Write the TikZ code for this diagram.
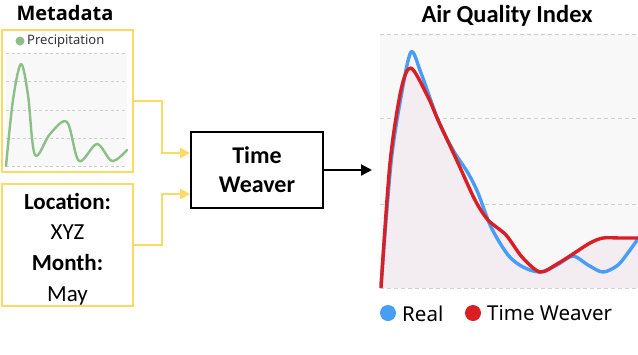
\documentclass[tikz,border=0pt]{standalone}
\usepackage{fontspec}
\setmainfont{Carlito}
\newfontfamily\uifont{Noto Sans}
\newfontfamily\uiboldfont{Open Sans}
\usetikzlibrary{arrows.meta}
\definecolor{ybox}{RGB}{255,217,102}
\definecolor{pgreen}{RGB}{140,190,135}
\definecolor{rblue}{RGB}{72,158,245}
\definecolor{twred}{RGB}{217,30,36}
\definecolor{gridc}{RGB}{205,205,205}
\definecolor{plotbg}{RGB}{248,248,248}
\definecolor{underfill}{RGB}{243,236,241}
\begin{document}
\begin{tikzpicture}[x=1pt,y=-1pt,
  yellowbox/.style={draw=ybox, line width=2.2pt, minimum width=131pt, inner sep=0pt},
  yconn/.style={draw=ybox, line width=2.2pt, -{Triangle[length=10pt,width=10pt]}},
  bconn/.style={draw=black, line width=2.2pt, -{Triangle[length=11pt,width=11pt]}},
  twbox/.style={draw=black, line width=1.8pt, minimum width=132pt, minimum height=76pt, inner sep=0pt, align=center, font=\fontsize{24}{29}\selectfont\bfseries},
  title/.style={font=\fontsize{24.5}{28}\selectfont\bfseries, inner sep=0pt},
  gridline/.style={draw=gridc, line width=0.8pt, dash pattern=on 4pt off 3pt},
  legtext/.style={font=\uifont\fontsize{20.5}{24}\selectfont, anchor=west, inner sep=0pt},
  dotmark/.style={circle, inner sep=0pt, draw=none}
]
\useasboundingbox (0,0) rectangle (638,354);

% ---------- Metadata ----------
\node[font=\uiboldfont\fontsize{20}{24}\selectfont\bfseries, inner sep=0pt] (mtitle) at (65,13) {Metadata};

% precipitation chart
\fill[plotbg] (6,53) rectangle (127,166);
\foreach \yy in {53,81,110,138,166} \draw[gridline, line width=0.6pt, dash pattern=on 3pt off 2.5pt] (6,\yy) -- (127,\yy);
\draw[pgreen, line width=2.4pt, line cap=round, line join=round]
  plot[smooth, tension=0.55] coordinates {(6,166) (13,100) (21,64) (28,95) (35,155) (50,134) (67,122) (79,161) (97,144) (112,161) (127,150)};
\node[dotmark, fill=pgreen, minimum size=9pt] (gdot) at (20,41) {};
\node[font=\uifont\fontsize{13}{15}\selectfont, anchor=west, inner sep=0pt, text=black!80] (plab) at (27,41.5) {Precipitation};
\node[yellowbox, minimum height=142pt] (prec) at (67.5,101) {};

% location box
\node[yellowbox, minimum height=122pt] (loc) at (67.5,245) {};
\node[align=center, inner sep=0pt, font=\fontsize{23}{30.7}\selectfont] (loctext) at ([yshift=-4pt]loc.center)
  {\textbf{Location:}\\XYZ\\\textbf{Month:}\\May};

% ---------- Time Weaver ----------
\node[twbox] (tw) at (257,170) {Time\\Weaver};

\draw[yconn] (prec.east) -- ++(28,0) |- ([yshift=17pt]tw.west);
\draw[yconn] (loc.east) -- ++(28,0) |- ([yshift=-24pt]tw.west);

\coordinate (aqiin) at (372,170);
\draw[bconn] (tw.east) -- (aqiin);

% ---------- Air Quality Index ----------
\node[title] (atitle) at (507,16) {Air Quality Index};

\begin{scope}
\clip (378,0) rectangle (638,354);
\fill[plotbg] (380,34) rectangle (640,288);
\foreach \yy in {34,118,204,288} \draw[gridline] (380,\yy) -- (640,\yy);
\fill[underfill]
  plot[smooth, tension=0.5] coordinates {(381,288) (390,163) (401,90) (411,68) (428,97) (438,120) (458,163) (475,200) (488,220) (506,235) (522,257) (540,272) (557,264) (573,254) (590,243) (603,238) (620,238) (640,238)}
  -- (640,288) -- (381,288) -- cycle;
\draw[rblue, line width=3.4pt, line join=round]
  plot[smooth, tension=0.5] coordinates {(381,285) (391,163) (401,97) (411,52) (421,73) (438,120) (453,150) (468,173) (478,193) (491,227) (508,255) (523,267) (540,272) (557,265) (573,256) (588,265) (603,272) (618,265) (630,250) (640,236)};
\draw[twred, line width=3.4pt, line join=round]
  plot[smooth, tension=0.5] coordinates {(381,288) (390,163) (401,90) (411,68) (428,97) (438,120) (458,163) (475,200) (488,220) (506,235) (522,257) (540,272) (557,264) (573,254) (590,243) (603,238) (620,238) (640,238)};
\end{scope}

% legend
\node[dotmark, fill=rblue, minimum size=16pt] (bdot) at (388,313) {};
\node[legtext] (lreal) at (402,313.5) {Real};
\node[dotmark, fill=twred, minimum size=16pt] (rdot) at (473,313) {};
\node[legtext] (ltw) at (487,313.5) {Time Weaver};
\end{tikzpicture}
\end{document}
